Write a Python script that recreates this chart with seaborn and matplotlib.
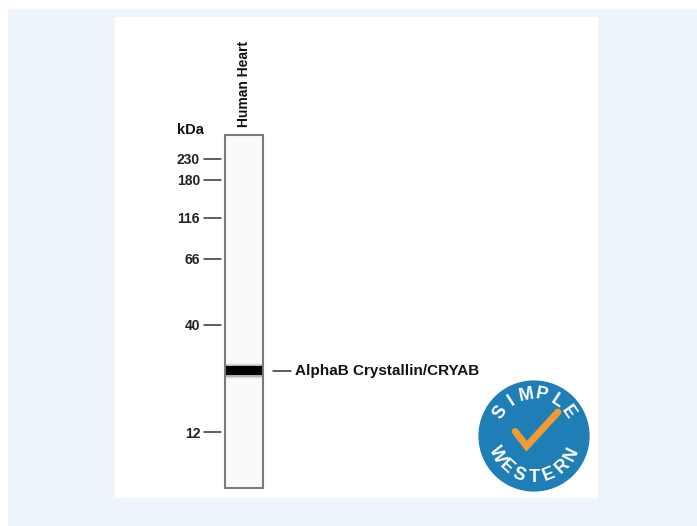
import matplotlib
matplotlib.use("Agg")
import matplotlib.pyplot as plt
import seaborn as sns
import numpy as np
from matplotlib.patches import Rectangle, Circle

# ladder markers (kDa) and where they sit down the lane (px from lane top)
marker_labels = ["230", "180", "116", "66", "40", "12"]
marker_pos = [24, 45, 83, 124, 190, 297]
lane_name = "Human Heart"
band_label = "AlphaB Crystallin/CRYAB"
band_pos = 235.5
band_width = 9
lane_length = 353

sns.set_style("white")
plt.rcParams['font.family'] = ['Liberation Sans Narrow', 'Liberation Sans', 'DejaVu Sans']

W, H = 697, 526
fig = plt.figure(figsize=(W / 100, H / 100), dpi=100)


def fx(px):
    return px / W


def fy(py):
    return 1 - py / H


# background panels
fig.patches.append(Rectangle((fx(8), 0), 1, fy(9), transform=fig.transFigure,
                             color="#EDF4FC", zorder=-2))
fig.patches.append(Rectangle((fx(115), fy(497)), fx(597) - fx(115), fy(17) - fy(497),
                             transform=fig.transFigure, color="white", zorder=-1))

# the lane
ax = fig.add_axes([fx(225), fy(488), fx(263) - fx(225), fy(135) - fy(488)])
ax.set_facecolor("#FAFAFA")
ax.set_xlim(0, 1)
ax.set_ylim(lane_length, 0)
for s in ax.spines.values():
    s.set_visible(True)
    s.set_color("#7A7A7A")
    s.set_linewidth(1.5)
ax.set_xticks([])
ax.set_yticks(marker_pos)
ax.set_yticklabels(marker_labels, fontweight="bold", fontsize=10, color="#222222")
ax.tick_params(axis="y", length=0, pad=18)
for y in marker_pos:
    ax.plot([-0.553, -0.105], [y, y], color="#333333", lw=1.1, clip_on=False)

# band (with a soft fade at its edges)
for half, alpha in [(8, 0.05), (7, 0.1), (6, 0.25)]:
    ax.axhspan(band_pos - half, band_pos + half, color="#333333", alpha=alpha, lw=0)
ax.axhspan(band_pos - band_width / 2, band_pos + band_width / 2, color="black", lw=0)
ax.plot([1.263, 1.737], [band_pos, band_pos], color="#333333", lw=1.1, clip_on=False)
ax.text(1.842, band_pos, band_label, fontweight="bold", fontsize=11, va="center",
        ha="left", color="#111111", clip_on=False)

ax.text(0.5, -8, lane_name, rotation=90, ha="center", va="bottom", fontsize=10,
        fontweight="bold", color="#111111")
fig.text(fx(177), fy(130), "kDa", fontweight="bold", fontsize=10.5, va="center",
         ha="left", color="#111111")

# Simple Western logo
R = 57
cx, cy = 534, 436
lx = fig.add_axes([fx(cx - R - 3), fy(cy + R + 3), fx(2 * R + 6), (2 * R + 6) / H])
lim = (R + 3) / R
lx.set_xlim(-lim, lim)
lx.set_ylim(-lim, lim)
lx.axis("off")
lx.add_patch(Circle((0, 0), 1, fc="#1F7EB5", ec="white", lw=2))
top_word = "SIMPLE"
for ch, ang in zip(top_word, np.linspace(145, 35, len(top_word))):
    a = np.radians(ang)
    lx.text(0.73 * np.cos(a), 0.73 * np.sin(a), ch, rotation=ang - 90, ha="center",
            va="center", color="white", fontsize=13, fontweight="heavy",
            family=["Liberation Sans", "DejaVu Sans"])
bot_word = "WESTERN"
for ch, ang in zip(bot_word, np.linspace(206, 334, len(bot_word))):
    a = np.radians(ang)
    lx.text(0.73 * np.cos(a), 0.73 * np.sin(a), ch, rotation=ang + 90, ha="center",
            va="center", color="white", fontsize=13, fontweight="heavy",
            family=["Liberation Sans", "DejaVu Sans"])
lx.plot([-0.33, -0.13, 0.42], [0.08, -0.18, 0.42], color="#F39A32", lw=5,
        solid_capstyle="round", solid_joinstyle="miter")

fig.savefig("out.png", dpi=100)
